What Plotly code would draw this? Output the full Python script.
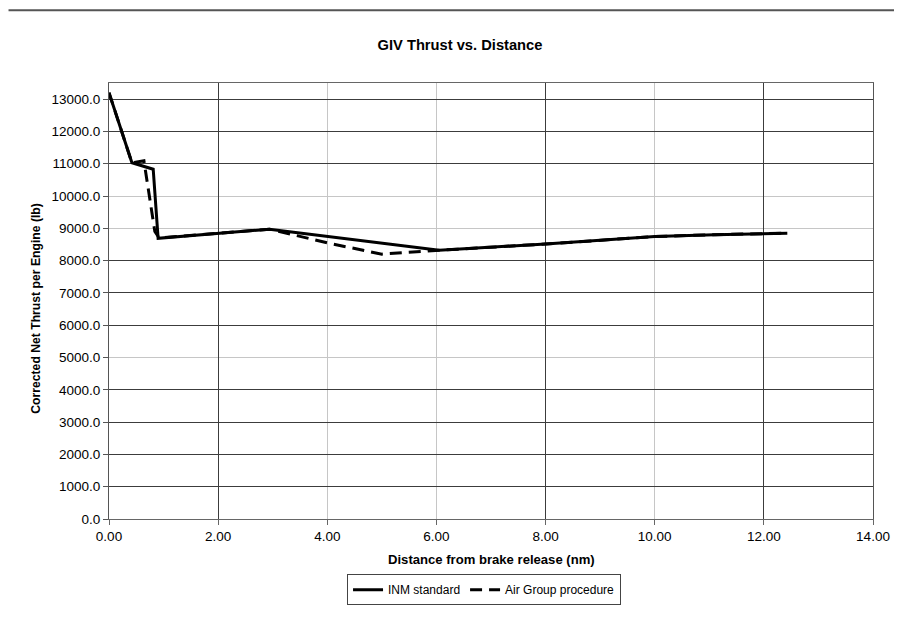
import plotly.graph_objects as go

# ---- data ----
inm_x = [0.0, 0.42, 0.81, 0.90, 2.94, 6.05, 8.0, 10.0, 11.1, 12.43]
inm_y = [13200, 11030, 10830, 8690, 8975, 8320, 8515, 8745, 8805, 8850]

air_x = [0.0, 0.42, 0.64, 0.84, 0.92, 2.94, 4.0, 5.0, 5.75, 6.05, 8.0, 10.0, 11.1, 12.43]
air_y = [13200, 11030, 11090, 8900, 8700, 8975, 8550, 8200, 8290, 8320, 8515, 8745, 8805, 8850]

series_names = ["INM standard", "Air Group procedure"]
title_text = "GIV Thrust vs. Distance"
x_title = "Distance from brake release (nm)"
y_title = "Corrected Net Thrust per Engine (lb)"

x_ticks = [0, 2, 4, 6, 8, 10, 12, 14]
y_ticks = list(range(0, 14000, 1000))
dark_x_grid = [2, 8, 12]
dark_y_grid = [1000, 2000, 3000, 4000, 6000, 7000, 8000, 11000, 12000, 13000]

FONT = "Liberation Sans, Arial, sans-serif"
W, H = 894, 609
ML, MR, MT, MB = 101, 25, 75, 90
PW, PH = W - ML - MR, H - MT - MB

fig = go.Figure()
fig.add_trace(go.Scatter(x=air_x, y=air_y, mode="lines", name=series_names[1],
                         line=dict(color="black", width=3, dash="12px,7px")))
fig.add_trace(go.Scatter(x=inm_x, y=inm_y, mode="lines", name=series_names[0],
                         line=dict(color="black", width=3)))
# empty helper trace so the overlay axes (darker grid lines) are drawn
fig.add_trace(go.Scatter(x=[], y=[], xaxis="x2", yaxis="y2", showlegend=False,
                         hoverinfo="skip"))

shapes = [
    dict(type="line", xref="paper", yref="paper", x0=-ML / PW, x1=1 + MR / PW,
         y0=1 + (MT - 1) / PH, y1=1 + (MT - 1) / PH, line=dict(color="#555", width=2)),
]

fig.update_layout(
    width=W, height=H,
    margin=dict(l=ML, r=MR, t=MT, b=MB),
    paper_bgcolor="white", plot_bgcolor="white",
    font=dict(family=FONT, size=12, color="black"),
    title=dict(text="<b>" + title_text + "</b>", x=452 / W, xref="container", xanchor="center",
               y=1 - 37 / H, yref="container", yanchor="middle",
               font=dict(family=FONT, size=14.7, color="black")),
    showlegend=True,
    legend=dict(orientation="h", x=(478 - ML) / PW, xanchor="center",
                y=-(591 - (H - MB)) / PH, yanchor="middle",
                bordercolor="#444", borderwidth=1, bgcolor="white",
                font=dict(family=FONT, size=12), traceorder="reversed"),
    shapes=shapes,
    annotations=[
        dict(text="<b>" + x_title + "</b>", xref="paper", yref="paper",
             x=(485 - ML) / PW, y=-(560 - (H - MB)) / PH, xanchor="center", yanchor="middle",
             showarrow=False, font=dict(family=FONT, size=13.1)),
        dict(text="<b>" + y_title + "</b>", xref="paper", yref="paper",
             x=-(ML - 28) / PW, y=((H - MB) - 304.5) / PH, xanchor="center", yanchor="middle",
             textangle=-90, showarrow=False, font=dict(family=FONT, size=12.2)),
    ],
    xaxis=dict(range=[0, 14], tickvals=x_ticks, tickformat=".2f",
               showgrid=True, gridcolor="#c6c6c6", gridwidth=1,
               showline=True, linecolor="#666", linewidth=1, mirror=True,
               ticks="outside", ticklen=5, tickcolor="#666",
               tickfont=dict(family=FONT, size=13.5), zeroline=False),
    yaxis=dict(range=[0, 13500], tickvals=y_ticks, tickformat=".1f",
               showgrid=True, gridcolor="#c6c6c6", gridwidth=1,
               showline=True, linecolor="#555", linewidth=1, mirror=True,
               ticks="outside", ticklen=5, tickcolor="#555",
               tickfont=dict(family=FONT, size=13.5), zeroline=False),
    xaxis2=dict(overlaying="x", range=[0, 14], tickvals=dark_x_grid, showgrid=True,
                gridcolor="#3c3c3c", gridwidth=1, showticklabels=False, ticks="",
                showline=False, zeroline=False, side="bottom"),
    yaxis2=dict(overlaying="y", range=[0, 13500], tickvals=dark_y_grid, showgrid=True,
                gridcolor="#3c3c3c", gridwidth=1, showticklabels=False, ticks="",
                showline=False, zeroline=False, side="left"),
)

fig.write_html("out.html")
